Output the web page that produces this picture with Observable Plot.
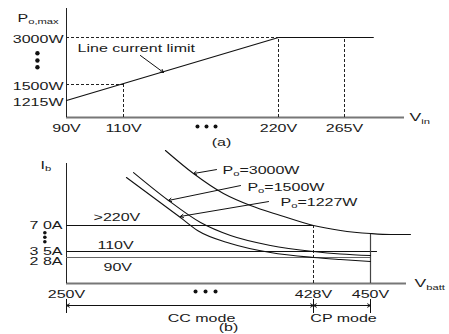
<!DOCTYPE html>
<html><head><meta charset="utf-8">
<script src="https://cdn.jsdelivr.net/npm/d3@7"></script>
<script src="https://cdn.jsdelivr.net/npm/@observablehq/plot@0.6"></script>
<style>
body{margin:0;background:#fff;}
#wrap{width:449px;height:334px;position:relative;overflow:hidden;background:#fff;}
#wrap svg{display:block;}
</style></head><body><div id="wrap"></div>
<script>
// ================= Panel (a): Po,max vs Vin =================
const vinDomain = [90, 110, 220, 265, 290];
const pDomain = [1000, 1215, 1500, 3000, 3600];
const vinTicks = [90, 110, 220, 265];
const vinTickLabels = ["90V", "110V", "220V", "265V"];
const pTicks = [3000, 1500, 1215];
const pTickLabels = ["3000W", "1500W", "1215W"];
const limitVin = [90, 220, 277];
const limitP = [1215, 3000, 3000];
const guideHP = [3000, 1500];
const guideHVinEnd = [220, 110];
const guideVVin = [110, 220, 265];
const guideVPEnd = [1500, 3000, 3000];
const noteText = ["Line current limit"];
const noteVin = [93.9];
const noteP = [2649];
const noteArrowFrom = [122, 2426];
const noteArrowTo = [138.4, 1883];
const aDotsHVin = [162.5, 168.9, 175.3];
const aDotsHP = [886, 886, 886];
const aDotsVVin = [79.8, 79.8, 79.8];
const aDotsVP = [2499, 2266, 2052];
const aTitle = ["P|o,max"]; const aTitleVin = [72.8]; const aTitleP = [3393];
const aXName = ["V|in"]; const aXNameVin = [292.1];
const aCaption = ["(a)"]; const aCaptionVin = [179.5]; const aCaptionP = [684];

// ================= Panel (b): Ib vs Vbatt =================
const vbDomain = [250, 428, 450, 480];
const ibDomain = [0, 2.8, 3.5, 7, 12];
const vbTicks = [250, 428, 450];
const vbTickLabels = ["250V", "428V", "450V"];
const ibTicks = [7.0, 3.5, 2.8];
const ibTickLabels = ["7 0A", "3 5A", "2 8A"];
const ibTickDy = [0, 0, 4];
const ccLimitI = [7.0, 3.5, 2.8];
const ccLimitEndV = [428, 455.8, 450];
const vinLevelLabels = [">220V", "110V", "90V"];
const vinLevelV = [269.5, 272.3, 276.7];
const vinLevelI = [7.64, 4.31, 1.72];
const p3000V = [321.3, 341.5, 363.1, 382.6, 404.2, 428, 438.4, 450, 466.7, 483.3];
const p3000I = [13.05, 11.19, 9.58, 8.61, 7.81, 7.0, 6.33, 5.92, 5.79, 5.79];
const p1500V = [298.3, 323.5, 346.6, 368.2, 397, 428, 438.4, 450];
const p1500I = [11.27, 9.02, 7.24, 5.65, 4.31, 3.5, 3.21, 3.03];
const p1227V = [293.2, 332.1, 344.4, 368.2, 397, 428, 438.4, 450];
const p1227I = [10.87, 7.64, 6.33, 4.58, 3.38, 2.8, 2.58, 2.37];
const powerLabels = ["P|o|=3000W", "P|o|=1500W", "P|o|=1227W"];
const powerLabelV = [362.4, 380.4, 404.2];
const powerLabelI = [11.43, 10.06, 8.85];
const powerArrowV1 = [358.1, 375.4, 395.6];
const powerArrowI1 = [11.51, 10.22, 8.93];
const powerArrowV2 = [341.5, 323.5, 332.1];
const powerArrowI2 = [11.19, 9.02, 7.73];
const cpStartV = 428, cpStartI = 7.0;
const cpEndV = 450, cpEndI = 5.92;
const bDotsHV = [343, 350.2, 357.4];
const bDotsHI = [-0.86, -0.86, -0.86];
const bDotsVV = [234.4, 234.4, 234.4];
const bDotsVI = [6.02, 5.42, 4.81];
const bYName = ["I|b"]; const bYNameV = [231.3]; const bYNameI = [11.84];
const bXName = ["V|batt"]; const bXNameV = [486.7];
const modeNames = ["CC mode", "CP mode"];
const modeStartV = [250, 428];
const modeEndV = [428, 450];
const modeMidV = [347.3, 439.6];
const modeRowI = -2.37;
const modeLabelI = -3.85;
const modeTickI = [-1.72, -3.23];
const bCaption = ["(b)"]; const bCaptionV = [366.7]; const bCaptionI = [-4.78];

const FONT = "Liberation Sans, Arial, Helvetica, sans-serif";
const INK = "#1a1a1a";
const zipXY = (xs, ys) => xs.map((x, i) => ({x, y: ys[i]}));
const text = (xs, ys, labels, o = {}) =>
  Plot.text(labels.map((t, i) => ({x: xs[i], y: ys[i], t})),
    {x: "x", y: "y", text: "t", fontFamily: FONT, fontSize: 10, fill: INK, ...o});

// ---------- Panel (a) ----------
const plotA = Plot.plot({
  width: 449, height: 148, margin: 0,
  style: {background: "white", fontFamily: FONT},
  x: {type: "linear", domain: vinDomain, range: [66, 123, 278, 344, 404], axis: null},
  y: {type: "linear", domain: pDomain, range: [117, 100, 84, 37, 8], axis: null},
  marks: [
    Plot.ruleY([pDomain[0]], {x1: vinDomain[0], x2: vinDomain[vinDomain.length - 1], stroke: "#777", strokeWidth: 2}),
    Plot.ruleX([vinDomain[0]], {y1: pDomain[0], y2: pDomain[pDomain.length - 1], stroke: "#222", strokeWidth: 1}),
    Plot.ruleY(guideHP, {x1: vinDomain[0], x2: (d, i) => guideHVinEnd[i], stroke: "#222", strokeDasharray: "3,2"}),
    Plot.ruleX(guideVVin, {y1: pDomain[0], y2: (d, i) => guideVPEnd[i], stroke: "#222", strokeDasharray: "3,2"}),
    Plot.line(zipXY(limitVin, limitP), {x: "x", y: "y", stroke: "#111", strokeWidth: 1.2}),
    Plot.arrow([0], {x1: noteArrowFrom[0], y1: noteArrowFrom[1], x2: noteArrowTo[0], y2: noteArrowTo[1], stroke: "#111", strokeWidth: 1, headLength: 5}),
    text(noteVin, noteP, noteText, {textAnchor: "start"}),
    text(pTicks.map(() => vinDomain[0]), pTicks, pTickLabels, {textAnchor: "end", dx: -3, dy: 2}),
    text(vinTicks, vinTicks.map(() => pDomain[0]), vinTickLabels, {dy: 11}),
    text(aTitleVin, aTitleP, aTitle, {textAnchor: "start"}),
    text(aXNameVin, [pDomain[0]], aXName, {textAnchor: "start", fontSize: 11}),
    text(aCaptionVin, aCaptionP, aCaption),
    Plot.dot(zipXY(aDotsHVin, aDotsHP), {x: "x", y: "y", r: 2, fill: "#111", stroke: null}),
    Plot.dot(zipXY(aDotsVVin, aDotsVP), {x: "x", y: "y", r: 2.2, fill: "#111", stroke: null})
  ]
});

// ---------- Panel (b) ----------
const curveMark = (vs, is) => Plot.line(zipXY(vs, is), {x: "x", y: "y", stroke: "#111", strokeWidth: 1.1, curve: "monotone-x"});
const modeArrows = [];
modeNames.forEach((n, k) => {
  modeArrows.push({x1: modeMidV[k], x2: modeStartV[k]});
  modeArrows.push({x1: modeMidV[k], x2: modeEndV[k]});
});
const ibTickRows = ibTicks.map((v, i) => ({x: vbDomain[0], y: v, t: ibTickLabels[i], dy: ibTickDy[i]}));
const plotB = Plot.plot({
  width: 449, height: 186, margin: 0,
  style: {background: "white", fontFamily: FONT},
  x: {type: "linear", domain: vbDomain, range: [66, 313, 370, 406], axis: null},
  y: {type: "linear", domain: ibDomain, range: [135, 109, 103, 77, 15], axis: null},
  marks: [
    Plot.ruleY([ibDomain[0]], {x1: vbDomain[0], x2: vbDomain[vbDomain.length - 1], stroke: "#777", strokeWidth: 2}),
    Plot.ruleX([vbDomain[0]], {y1: ibDomain[0], y2: ibDomain[ibDomain.length - 1], stroke: "#222", strokeWidth: 1}),
    Plot.ruleY(ccLimitI, {x1: vbDomain[0], x2: (d, i) => ccLimitEndV[i], stroke: (d, i) => i === 2 ? "#666" : "#111", strokeWidth: 1.1}),
    Plot.ruleX([cpStartV], {y1: 0, y2: cpStartI, stroke: "#222", strokeDasharray: "3,2"}),
    Plot.ruleX([cpEndV], {y1: 0, y2: cpEndI, stroke: "#444", strokeWidth: 1.2}),
    curveMark(p3000V, p3000I),
    curveMark(p1500V, p1500I),
    curveMark(p1227V, p1227I),
    Plot.arrow(powerArrowV1.map((v, i) => ({x1: v, y1: powerArrowI1[i], x2: powerArrowV2[i], y2: powerArrowI2[i]})),
      {x1: "x1", y1: "y1", x2: "x2", y2: "y2", stroke: "#111", strokeWidth: 1, headLength: 5}),
    text(powerLabelV, powerLabelI, powerLabels, {textAnchor: "start"}),
    text(vinLevelV, vinLevelI, vinLevelLabels, {textAnchor: "start"}),
    ...ibTickRows.map(r => Plot.text([r], {x: "x", y: "y", text: "t", textAnchor: "end", dx: -4, dy: r.dy, fontFamily: FONT, fontSize: 10, fill: INK})),
    text(vbTicks, vbTicks.map(() => 0), vbTickLabels, {dy: 11}),
    text(bYNameV, bYNameI, bYName, {textAnchor: "start"}),
    text(bXNameV, [0], bXName, {textAnchor: "start", fontSize: 11}),
    Plot.arrow(modeArrows, {x1: "x1", x2: "x2", y1: modeRowI, y2: modeRowI, stroke: "#111", strokeWidth: 1, headLength: 5}),
    Plot.ruleX(vbTicks, {y1: modeTickI[0], y2: modeTickI[1], stroke: "#111", strokeWidth: 1}),
    text(modeMidV, modeMidV.map(() => modeLabelI), modeNames),
    text(bCaptionV, bCaptionI, bCaption),
    Plot.dot(zipXY(bDotsHV, bDotsHI), {x: "x", y: "y", r: 2, fill: "#111", stroke: null}),
    Plot.dot(zipXY(bDotsVV, bDotsVI), {x: "x", y: "y", r: 1.8, fill: "#111", stroke: null})
  ]
});

const wrap = document.getElementById("wrap");
wrap.append(plotA, plotB);

// subscripts ("|" marks a subscript part) and the horizontally wide lettering of the original
const NS = "http://www.w3.org/2000/svg";
for (const svg of [plotA, plotB]) {
  svg.querySelectorAll("text").forEach(t => {
    const s = t.textContent;
    if (s.includes("|")) {
      const parts = s.split("|");
      t.textContent = "";
      parts.forEach((p, i) => {
        const ts = document.createElementNS(NS, "tspan");
        ts.textContent = p;
        if (i === 1) { ts.setAttribute("font-size", "7"); ts.setAttribute("dy", "2.5"); }
        if (i === 2) { ts.setAttribute("dy", "-2.5"); }
        t.appendChild(ts);
      });
    }
    const len = t.getComputedTextLength();
    if (len > 0) {
      t.setAttribute("textLength", (len * 1.6).toFixed(2));
      t.setAttribute("lengthAdjust", "spacingAndGlyphs");
    }
  });
}
</script></body></html>
